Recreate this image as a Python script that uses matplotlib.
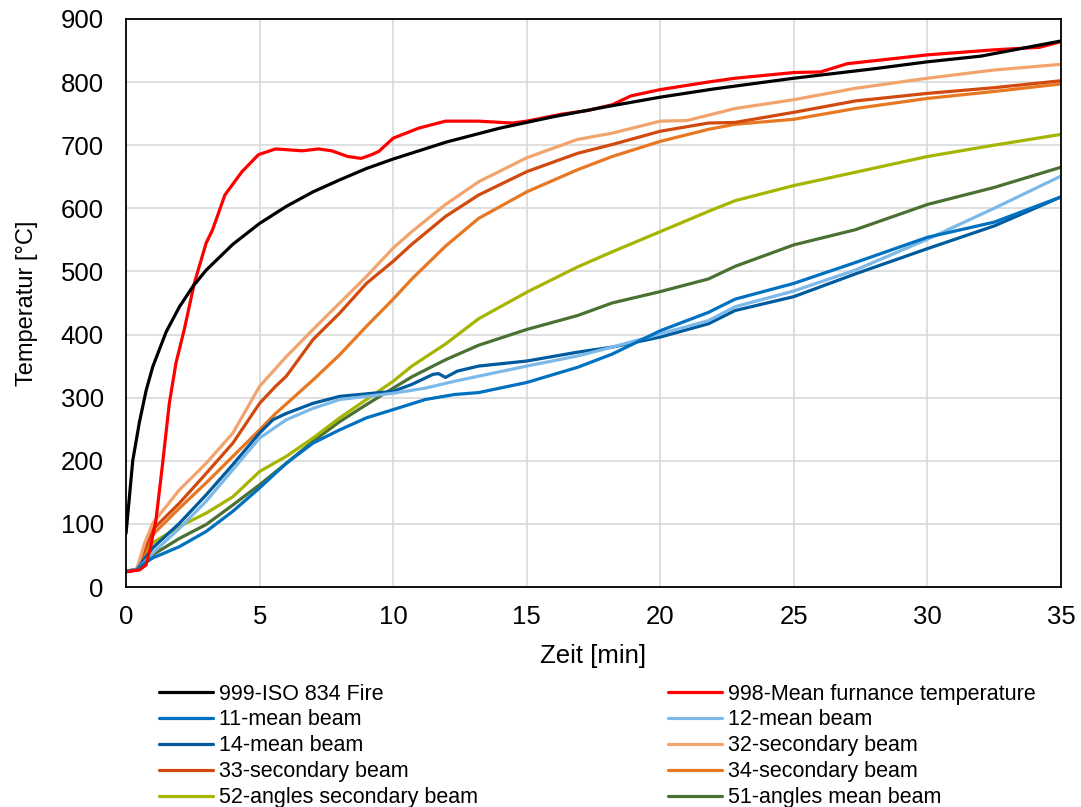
import matplotlib
matplotlib.use("Agg")
import matplotlib.pyplot as plt

plt.rcParams['font.family'] = ['Liberation Sans', 'DejaVu Sans']

# 999-ISO 834 Fire
t_iso = [0, 0.12, 0.25, 0.5, 0.75, 1, 1.5, 2, 2.5, 3, 4, 5, 6, 7, 8, 9, 10, 12, 14, 16, 18, 20, 22, 25, 28, 30, 32, 35]
T_iso = [85, 140, 200, 261, 311, 349, 404, 444, 476, 502, 543, 576, 603, 626, 645, 663, 678, 705, 727, 745, 761, 776, 789, 806, 821, 832, 841, 865]

# 998-Mean furnance temperature
t_fur = [0, 0.5, 0.75, 0.9, 1.12, 1.37, 1.62, 1.87, 2.18, 2.56, 3.0, 3.24, 3.7, 4.34, 4.96, 5.6, 6.6, 7.2, 7.7, 8.3,
         8.8, 9.2, 9.46, 10, 10.96, 11.96, 13.2, 14.45, 15, 16.3, 17.3, 18.2, 18.9, 20, 21.8, 22.8, 25, 26, 27, 30, 32.5, 34.2, 35]
T_fur = [24, 27, 35, 60, 106, 196, 291, 355, 408, 482, 545, 566, 621, 658, 685, 694, 691, 694, 691, 682,
         679, 685, 690, 711, 727, 738, 738, 735, 738, 749, 755, 764, 778, 788, 800, 806, 815, 816, 829, 843, 851, 855, 864]

# 11-mean beam
t_11 = [0, 0.4, 0.7, 1, 2, 3, 4, 5, 6, 7, 8, 9, 10, 11.2, 12.3, 13.2, 15, 16.9, 18.2, 20, 21.8, 22.8, 25, 27.3, 30, 32.5, 35]
T_11 = [25, 27, 38, 46, 64, 88, 120, 157, 196, 228, 249, 268, 281, 297, 305, 308, 324, 348, 369, 406, 435, 456, 481, 514, 554, 578, 618]

# 12-mean beam
t_12 = [0, 0.4, 0.7, 1, 2, 3, 4, 5, 6, 7, 8, 9, 10, 11.2, 12.3, 13.2, 15, 16.9, 18.2, 20, 21.8, 22.8, 25, 27.3, 30, 32.5, 35]
T_12 = [25, 27, 40, 54, 93, 136, 186, 236, 265, 283, 297, 302, 307, 315, 326, 334, 350, 366, 380, 401, 422, 444, 469, 502, 551, 600, 651]

# 14-mean beam
t_14 = [0, 0.4, 0.7, 1, 2, 3, 4, 5, 5.5, 6, 7, 8, 9, 10, 10.7, 11.5, 11.7, 11.96, 12.4, 13.2, 15, 16.9, 18.2, 20,
        21.8, 22.8, 25, 27.3, 30, 32.5, 35]
T_14 = [25, 27, 45, 62, 101, 146, 194, 244, 265, 275, 291, 302, 306, 310, 321, 337, 338, 332, 342, 350, 358, 372, 380, 396,
        417, 438, 460, 496, 536, 572, 618]

# 32-secondary beam
t_32 = [0, 0.4, 0.7, 1, 2, 3, 4, 5, 6, 7, 8, 9, 10, 10.7, 11.96, 13.2, 15, 16.9, 18.2, 20, 21, 22.8, 25, 27.3, 30, 32.5, 35]
T_32 = [25, 28, 70, 101, 154, 196, 244, 318, 365, 408, 450, 492, 537, 563, 606, 642, 680, 709, 719, 738, 739, 758, 772, 790, 806, 819, 828]

# 33-secondary beam
t_33 = [0, 0.4, 0.7, 1, 2, 3, 4, 5, 5.6, 6, 7, 8, 9, 10, 10.7, 11.96, 13.2, 15, 16.9, 18.2, 20, 21.8, 22.8, 25, 27.3, 30, 32.5, 35]
T_33 = [25, 28, 60, 91, 133, 180, 228, 291, 318, 334, 392, 434, 481, 516, 543, 587, 621, 658, 687, 701, 722, 735, 736, 752, 770, 782, 791, 802]

# 34-secondary beam
t_34 = [0, 0.4, 0.7, 1, 2, 3, 4, 5, 5.6, 6, 7, 8, 9, 10, 10.7, 11.96, 13.2, 15, 16.9, 18.2, 20, 21.8, 22.8, 25, 27.3, 30, 32.5, 35]
T_34 = [25, 28, 55, 83, 125, 165, 207, 249, 275, 290, 328, 368, 413, 456, 488, 540, 584, 626, 661, 682, 706, 725, 733, 741, 758, 774, 785, 797]

# 52-angles secondary beam
t_52 = [0, 0.4, 0.7, 1, 2, 3, 4, 5, 6, 7, 8, 9, 10, 10.7, 11.96, 13.2, 15, 16.9, 18.2, 20, 21.8, 22.8, 25, 27.3, 30, 32.5, 35]
T_52 = [25, 28, 50, 70, 96, 117, 143, 183, 207, 236, 268, 297, 326, 350, 385, 425, 467, 507, 531, 563, 595, 612, 636, 657, 682, 700, 717]

# 51-angles mean beam
t_51 = [0, 0.4, 0.7, 1, 2, 3, 4, 5, 6, 7, 8, 9, 10, 10.7, 11.96, 13.2, 15, 16.9, 18.2, 20, 21.8, 22.8, 25, 27.3, 30, 32.5, 35]
T_51 = [25, 27, 40, 51, 77, 99, 130, 162, 196, 231, 262, 289, 315, 333, 360, 383, 408, 430, 450, 468, 488, 508, 542, 566, 606, 633, 665]

series = [
    ("999-ISO 834 Fire", t_iso, T_iso, "#000000"),
    ("998-Mean furnance temperature", t_fur, T_fur, "#FF0000"),
    ("11-mean beam", t_11, T_11, "#0070C0"),
    ("12-mean beam", t_12, T_12, "#7DB9E8"),
    ("14-mean beam", t_14, T_14, "#005A9E"),
    ("32-secondary beam", t_32, T_32, "#F2A46E"),
    ("33-secondary beam", t_33, T_33, "#D2490E"),
    ("34-secondary beam", t_34, T_34, "#E87722"),
    ("52-angles secondary beam", t_52, T_52, "#A5B500"),
    ("51-angles mean beam", t_51, T_51, "#4A7132"),
]

fig = plt.figure(figsize=(10.81, 8.07), dpi=100)
ax = fig.add_axes([0.1166, 0.2726, 0.8649, 0.704])

lines = {}
# lowest series drawn first so the furnace/ISO curves stay on top
for name, t, T, c in reversed(series):
    ln, = ax.plot(t, T, color=c, lw=2.3, label=name, solid_capstyle='round')
    lines[name] = ln

ax.set_xlim(0, 35)
ax.set_ylim(0, 900)
ax.set_xticks(range(0, 36, 5))
ax.set_yticks(range(0, 901, 100))
ax.grid(True, color="#D9D9D9", lw=1.2)
ax.set_axisbelow(True)
for s in ax.spines.values():
    s.set_color("black")
    s.set_linewidth(1.3)
ax.tick_params(length=0, labelsize=18.5)
ax.tick_params(axis='y', pad=16)
ax.tick_params(axis='x', pad=13)
ax.set_xlabel("Zeit [min]", fontsize=18.5, labelpad=11)
ax.set_ylabel("Temperatur [°C]", fontsize=17, labelpad=16)

# legend reads row by row in the original, matplotlib fills by column
col1 = ["999-ISO 834 Fire", "11-mean beam", "14-mean beam", "33-secondary beam", "52-angles secondary beam"]
col2 = ["998-Mean furnance temperature", "12-mean beam", "32-secondary beam", "34-secondary beam", "51-angles mean beam"]
order = col1 + col2
fig.legend([lines[n] for n in order], order, ncol=2, loc="upper left",
           bbox_to_anchor=(0.129, 0.177), bbox_transform=fig.transFigure,
           frameon=False, fontsize=15.5, handlelength=2.5, handletextpad=0.28,
           columnspacing=8.85, labelspacing=0.23)

fig.savefig("out.png", dpi=100)
